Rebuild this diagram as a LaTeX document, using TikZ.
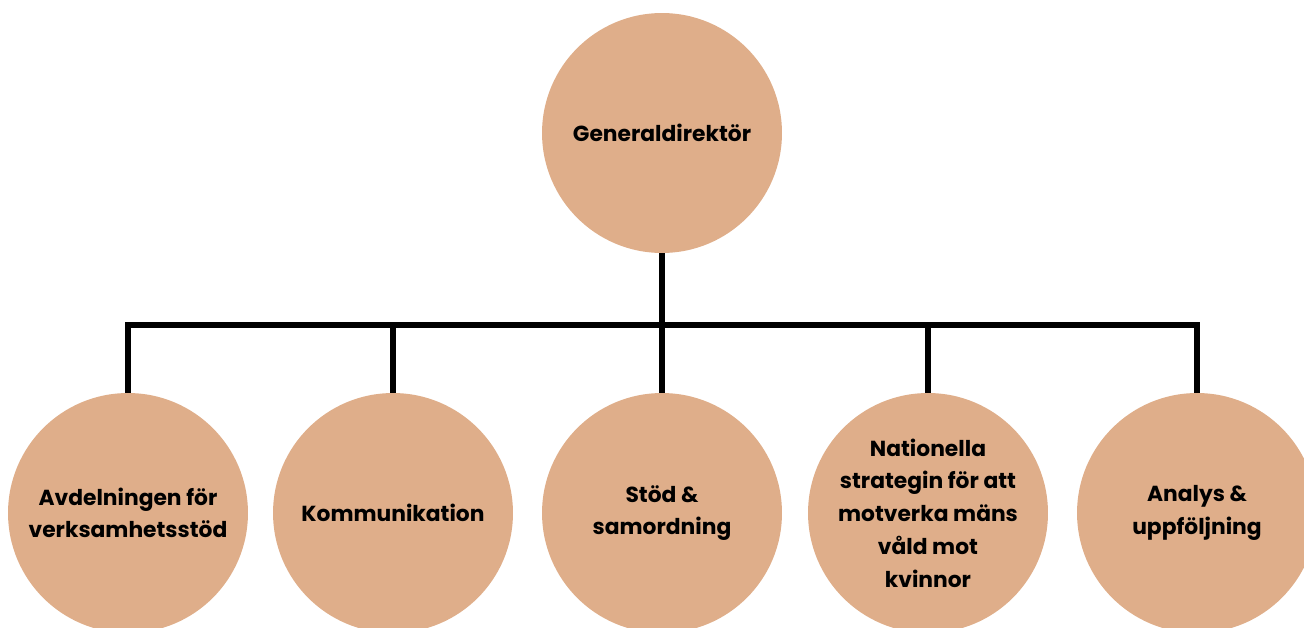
\documentclass[tikz,border=0pt]{standalone}
\usepackage{fontspec}
\setmainfont{Poppins}
\definecolor{sand}{HTML}{DFAE8A}

\begin{document}
\begin{tikzpicture}[x=0.02cm, y=-0.02cm,
	unit/.style={circle, fill=sand, minimum size=4.8cm, inner sep=0pt, align=center, font=\bfseries\fontsize{12.4}{18.6}\selectfont},
	link/.style={line width=3.4pt, black}]
	\useasboundingbox (0,0) rectangle (1304,628);
	\clip (0,0) rectangle (1304,628);
	\path (662,133) node(gd)[unit]{Generaldirektör}
	(128,513) node(avd)[unit]{Avdelningen för\\verksamhetsstöd}
	(393,513) node(kom)[unit]{Kommunikation}
	(662,513) node(stod)[unit]{Stöd \&\\samordning}
	(928,513) node(nat)[unit]{Nationella\\strategin för att\\motverka mäns\\våld mot\\kvinnor}
	(1197,513) node(ana)[unit]{Analys \&\\uppföljning};
	\coordinate (bar) at (662,325);
	\draw [link] (gd.south) -- (bar);
	\draw [link] (avd.north) |- (bar) -| (ana.north);
	\draw [link] (kom.north) -- (kom.north |- bar);
	\draw [link] (stod.north) -- (bar);
	\draw [link] (nat.north) -- (nat.north |- bar);
\end{tikzpicture}
\end{document}
